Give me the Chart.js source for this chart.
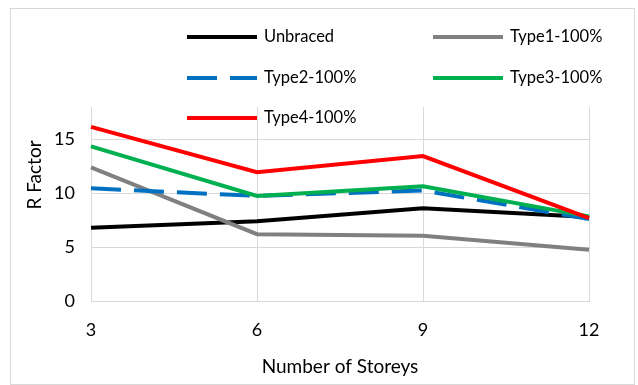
<!DOCTYPE html>
<html>
<head>
<meta charset="utf-8">
<script src="https://cdn.jsdelivr.net/npm/chart.js@4"></script>
<style>
  html, body { margin: 0; padding: 0; background: #fff; }
  #wrap { width: 638px; height: 385px; }
</style>
</head>
<body>
<div id="wrap"><canvas id="myChart" width="638" height="385"></canvas></div>
<script>
const storeys = ['3', '6', '9', '12'];
const unbraced = [6.8, 7.4, 8.6, 7.8];
const type1 = [12.4, 6.2, 6.05, 4.75];
const type2 = [10.45, 9.75, 10.25, 7.6];
const type3 = [14.35, 9.75, 10.65, 7.85];
const type4 = [16.15, 11.95, 13.45, 7.7];
const yTicks = [0, 5, 10, 15];

const FONT = 'Lato, "Liberation Sans", sans-serif';

// legend is drawn by hand, Excel style (2 columns over the plot)
const legendSpots = [
  { x: 187, y: 37 }, { x: 433, y: 37 },
  { x: 187, y: 78 }, { x: 433, y: 78 },
  { x: 187, y: 118 }
];

const frameAndLegend = {
  id: 'frameAndLegend',
  beforeDraw(chart) {
    const ctx = chart.ctx;
    ctx.save();
    ctx.fillStyle = '#fff';
    ctx.fillRect(0, 0, chart.width, chart.height);
    ctx.strokeStyle = '#d9d9d9';
    ctx.lineWidth = 1;
    ctx.strokeRect(10.5, 8.5, 624, 376);
    ctx.restore();
  },
  afterDatasetsDraw(chart) {
    const ctx = chart.ctx;
    ctx.save();
    chart.data.datasets.forEach((ds, i) => {
      const p = legendSpots[i];
      ctx.strokeStyle = ds.borderColor;
      ctx.lineWidth = ds.borderWidth;
      ctx.setLineDash(ds.borderDash || []);
      ctx.beginPath();
      ctx.moveTo(p.x, p.y);
      ctx.lineTo(p.x + 70, p.y);
      ctx.stroke();
      ctx.setLineDash([]);
      ctx.fillStyle = '#000';
      ctx.font = '16.5px ' + FONT;
      ctx.textBaseline = 'middle';
      ctx.fillText(ds.label, p.x + 77, p.y);
    });
    // y axis title
    ctx.translate(35, 175);
    ctx.rotate(-Math.PI / 2);
    ctx.font = '19px ' + FONT;
    ctx.textAlign = 'center';
    ctx.textBaseline = 'middle';
    ctx.fillText('R Factor', 0, 0);
    ctx.restore();
  }
};

function makeChart() {
  const ctx = document.getElementById('myChart');
  return new Chart(ctx, {
    type: 'line',
    data: {
      labels: storeys,
      datasets: [
        { label: 'Unbraced', data: unbraced, borderColor: '#000000', order: 5 },
        { label: 'Type1-100%', data: type1, borderColor: '#808080', order: 4 },
        { label: 'Type2-100%', data: type2, borderColor: '#0070C0', borderDash: [30, 13], order: 3 },
        { label: 'Type3-100%', data: type3, borderColor: '#00B050', order: 2 },
        { label: 'Type4-100%', data: type4, borderColor: '#FF0000', order: 1 }
      ].map((d) => Object.assign({ borderWidth: 4, pointRadius: 0, tension: 0, fill: false }, d))
    },
    options: {
      responsive: false,
      animation: false,
      layout: { padding: { left: 10, right: 49, top: 107, bottom: 0 } },
      plugins: { legend: { display: false }, tooltip: { enabled: false } },
      scales: {
        x: {
          offset: false,
          grid: { color: '#d9d9d9', drawTicks: false, offset: false },
          border: { color: '#d9d9d9' },
          ticks: { color: '#000', padding: 18, font: { family: FONT, size: 18 } },
          title: { display: true, text: 'Number of Storeys', color: '#000', padding: { top: 0, bottom: 7 }, font: { family: FONT, size: 19 } },
          afterFit(scale) { scale.height = 84; }
        },
        y: {
          min: 0,
          max: 18,
          afterBuildTicks(scale) { scale.ticks = yTicks.map((v) => ({ value: v })); },
          grid: { color: '#d9d9d9', drawTicks: false },
          border: { display: false },
          ticks: { color: '#000', padding: 16, font: { family: FONT, size: 18 } },
          afterFit(scale) { scale.width = 81; }
        }
      }
    },
    plugins: [frameAndLegend]
  });
}

let myChart = makeChart();
</script>
</body>
</html>
